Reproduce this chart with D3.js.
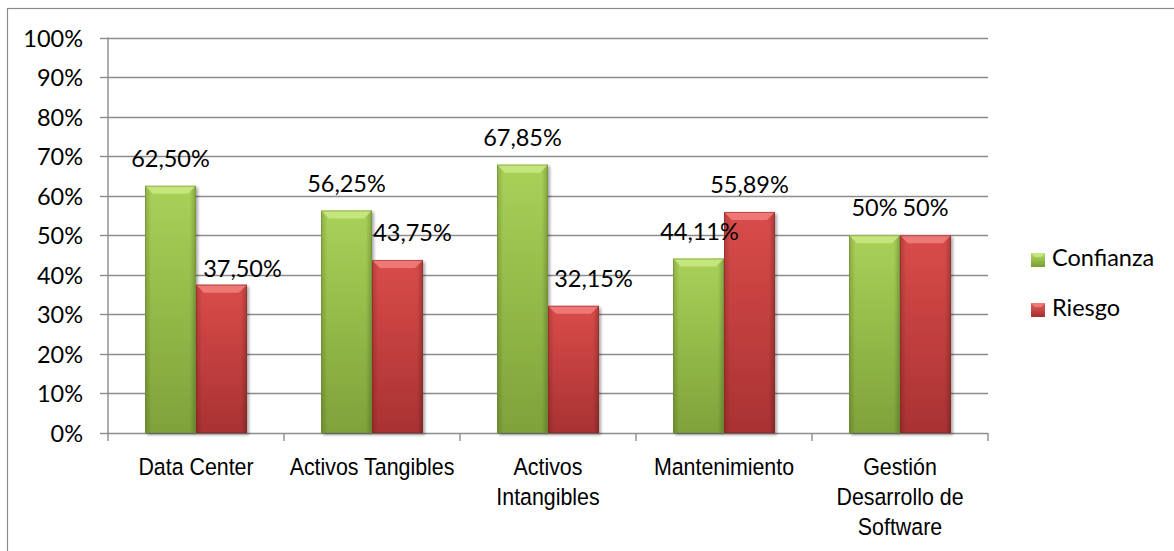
<!DOCTYPE html>
<html><head><meta charset="utf-8">
<script src="https://cdn.jsdelivr.net/npm/d3@7"></script>
<style>
html,body{margin:0;padding:0;background:#fff;}
svg{display:block;}
</style></head>
<body>
<svg id="chart" width="1174" height="551"></svg>
<script>
// ---- data ----
const categories = ["Data Center", "Activos Tangibles", "Activos Intangibles", "Mantenimiento", "Gestión Desarrollo de Software"];
const categoryLines = [["Data Center"], ["Activos Tangibles"], ["Activos", "Intangibles"], ["Mantenimiento"], ["Gestión", "Desarrollo de", "Software"]];
const series = ["Confianza", "Riesgo"];
const confianza = [62.50, 56.25, 67.85, 44.11, 50];
const riesgo = [37.50, 43.75, 32.15, 55.89, 50];
const confianzaLabels = ["62,50%", "56,25%", "67,85%", "44,11%", "50%"];
const riesgoLabels = ["37,50%", "43,75%", "32,15%", "55,89%", "50%"];
const yTicks = [0, 10, 20, 30, 40, 50, 60, 70, 80, 90, 100];
// manual label nudges seen in the reference [dx, dy]
const confianzaNudge = [[0,0],[0,0],[0,0],[1,0],[0,0]];
const riesgoNudge = [[21,11],[15,0],[20,0],[0,0],[0,0]];

(function(){
const svg = d3.select("#chart");
const pLeft = 108, pRight = 988, pTop = 37.5, pBottom = 433;
const seriesValues = [confianza, riesgo];
const seriesLabels = [confianzaLabels, riesgoLabels];
const seriesNudge = [confianzaNudge, riesgoNudge];
const fontMain = "Lato, 'Open Sans', sans-serif";

const x0 = d3.scaleBand().domain(categories).range([pLeft, pRight]).padding(0);
const x1 = d3.scaleBand().domain(series).range([0, x0.bandwidth()]).paddingInner(0).paddingOuter(0.7255);
const y = d3.scaleLinear().domain([0, 100]).range([pBottom, pTop]);

// defs
const defs = svg.append("defs");
const pal = {
  Confianza: {top:"#a9d158", bot:"#7fa23a", bevel:"#c6e680", edge:"#6f8f30", leg1:"#b5db66", leg2:"#76a030"},
  Riesgo: {top:"#d94c4a", bot:"#a93232", bevel:"#ee7a78", edge:"#8f2626", leg1:"#e0615e", leg2:"#a52d2d"}
};
series.forEach(s => {
  const g = defs.append("linearGradient").attr("id","g-"+s).attr("x1",0).attr("y1",0).attr("x2",0).attr("y2",1);
  g.append("stop").attr("offset","0%").attr("stop-color",pal[s].top);
  g.append("stop").attr("offset","100%").attr("stop-color",pal[s].bot);
  const h = defs.append("linearGradient").attr("id","h-"+s).attr("x1",0).attr("y1",0).attr("x2",1).attr("y2",0);
  h.append("stop").attr("offset","0%").attr("stop-color","#000").attr("stop-opacity",0.18);
  h.append("stop").attr("offset","12%").attr("stop-color","#000").attr("stop-opacity",0);
  h.append("stop").attr("offset","88%").attr("stop-color","#000").attr("stop-opacity",0);
  h.append("stop").attr("offset","100%").attr("stop-color","#000").attr("stop-opacity",0.22);
  const l = defs.append("linearGradient").attr("id","l-"+s).attr("x1",0).attr("y1",0).attr("x2",0).attr("y2",1);
  l.append("stop").attr("offset","0%").attr("stop-color",pal[s].leg1);
  l.append("stop").attr("offset","100%").attr("stop-color",pal[s].leg2);
});
const f = defs.append("filter").attr("id","shadow").attr("x","-20%").attr("y","-20%").attr("width","150%").attr("height","150%");
f.append("feGaussianBlur").attr("in","SourceAlpha").attr("stdDeviation",1.5);
f.append("feOffset").attr("dx",1.5).attr("dy",1.5).attr("result","ob");
f.append("feComponentTransfer").append("feFuncA").attr("type","linear").attr("slope",0.35);
const fm = f.append("feMerge"); fm.append("feMergeNode"); fm.append("feMergeNode").attr("in","SourceGraphic");

// outer frame
svg.append("rect").attr("x",7.5).attr("y",8.5).attr("width",1300).attr("height",700)
  .attr("fill","none").attr("stroke","#8a8a8a").attr("stroke-width",1.2);

// grid lines
svg.append("g").selectAll("line").data(yTicks.filter(t=>t>0)).join("line")
  .attr("x1",pLeft).attr("x2",pRight).attr("y1",d=>Math.round(y(d))+0.5).attr("y2",d=>Math.round(y(d))+0.5)
  .attr("stroke","#8c8c8c").attr("stroke-width",1.4);

// y axis
const yAxis = d3.axisLeft(y).tickValues(yTicks).tickFormat(d=>d+"%").tickSize(8).tickPadding(17);
const yg = svg.append("g").attr("transform",`translate(${pLeft},0)`).call(yAxis);
yg.select(".domain").attr("stroke","#8c8c8c").attr("stroke-width",1.4).attr("d",`M0,${pTop}V${pBottom}`);
yg.selectAll(".tick line").attr("stroke","#8c8c8c").attr("stroke-width",1.4);
yg.selectAll(".tick").attr("transform",d=>`translate(0,${Math.round(y(d))+0.5})`);
yg.selectAll(".tick text").attr("font-family",fontMain).attr("font-size","23.5px")
  .attr("fill","#000").attr("dy","0.35em");

// x axis
const xg = svg.append("g").attr("transform",`translate(0,${pBottom})`);
xg.append("line").attr("x1",pLeft).attr("x2",pRight).attr("y1",0.5).attr("y2",0.5).attr("stroke","#8c8c8c").attr("stroke-width",1.4);
const bounds = categories.map(c=>x0(c)).concat([pRight]);
xg.selectAll("line.tk").data(bounds).join("line").attr("class","tk")
  .attr("x1",d=>d).attr("x2",d=>d).attr("y1",0).attr("y2",8).attr("stroke","#8c8c8c").attr("stroke-width",1.4);

// category labels
categories.forEach((c,i)=>{
  const cx = x0(c) + x0.bandwidth()/2;
  const t = svg.append("text").attr("font-family","'Liberation Sans', Arial, sans-serif").attr("font-size","23.5px")
    .attr("fill","#000").attr("text-anchor","middle")
    .attr("transform",`translate(${cx},475) scale(0.91,1)`);
  categoryLines[i].forEach((ln,j)=>{
    t.append("tspan").attr("x",0).attr("y",j*30).text(ln);
  });
});

// bars
const barsG = svg.append("g");
series.forEach((s,si)=>{
  const vals = seriesValues[si];
  const g = barsG.append("g");
  categories.forEach((c,i)=>{
    const bx = x0(c) + x1(s), bw = x1.bandwidth();
    const by = y(vals[i]), bh = pBottom - by;
    const bg = g.append("g").attr("filter","url(#shadow)");
    bg.append("rect").attr("x",bx).attr("y",by).attr("width",bw).attr("height",bh).attr("fill",`url(#g-${s})`);
    bg.append("rect").attr("x",bx).attr("y",by).attr("width",bw).attr("height",bh).attr("fill",`url(#h-${s})`);
    const bv = 8;
    bg.append("path").attr("d",`M${bx},${by}L${bx+bw},${by}L${bx+bw-bv},${by+bv}L${bx+bv},${by+bv}Z`)
      .attr("fill",pal[s].bevel).attr("opacity",0.95);
    bg.append("rect").attr("x",bx+0.5).attr("y",by+0.5).attr("width",bw-1).attr("height",bh-1)
      .attr("fill","none").attr("stroke",pal[s].edge).attr("stroke-opacity",0.55).attr("stroke-width",1);
  });
});

// data labels
series.forEach((s,si)=>{
  const vals = seriesValues[si];
  svg.append("g").selectAll("text").data(categories).join("text")
    .attr("x",(c,i)=>x0(c)+x1(s)+x1.bandwidth()/2 + seriesNudge[si][i][0])
    .attr("y",(c,i)=>y(vals[i]) - 19 + seriesNudge[si][i][1])
    .attr("text-anchor","middle").attr("font-family",fontMain).attr("font-size","23.5px")
    .attr("fill","#000").text((c,i)=>seriesLabels[si][i]);
});

// legend
const leg = svg.append("g");
series.forEach((s,i)=>{
  const ly = 253 + i*50;
  leg.append("rect").attr("x",1031).attr("y",ly).attr("width",14).attr("height",14).attr("fill",`url(#l-${s})`);
  leg.append("path").attr("d",`M1031,${ly}L1045,${ly}L1041,${ly+4}L1035,${ly+4}Z`).attr("fill",pal[s].bevel);
  leg.append("text").attr("x",1052).attr("y",ly+13).attr("font-family",fontMain)
    .attr("font-size","23.5px").attr("fill","#000").text(s);
});
})();
</script>
</body></html>
